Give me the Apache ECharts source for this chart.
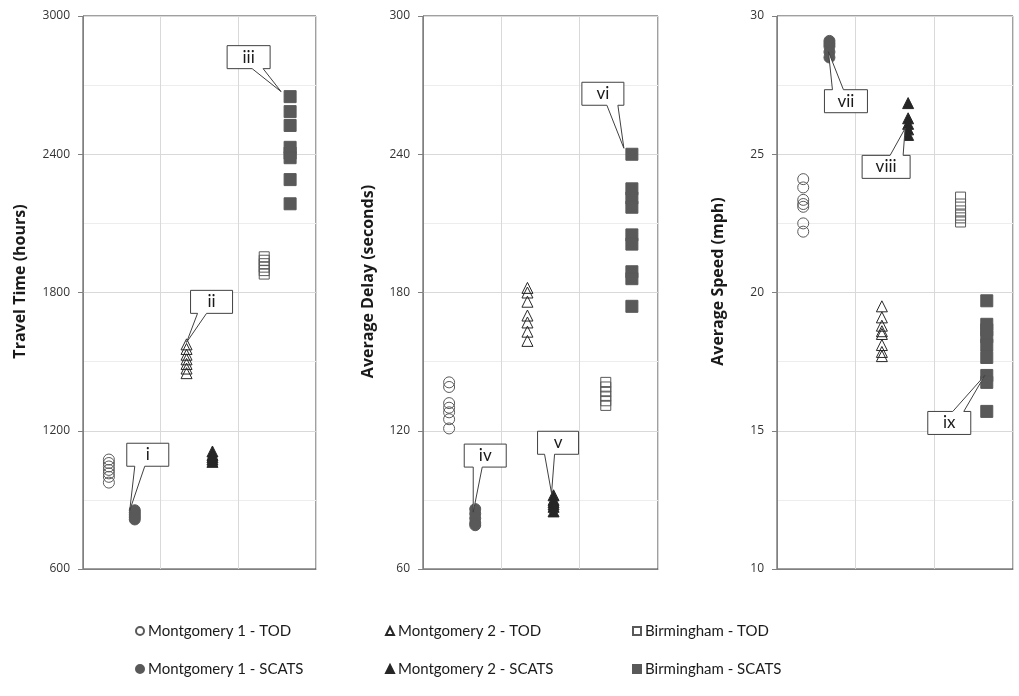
<!DOCTYPE html>
<html>
<head>
<meta charset="utf-8">
<title>TOD vs SCATS</title>
<script src="https://cdn.jsdelivr.net/npm/echarts@6/dist/echarts.min.js"></script>
<style>
  html, body { margin: 0; padding: 0; background: #fff; }
  #chart { width: 1019px; height: 696px; }
</style>
</head>
<body>
<div id="chart"></div>
<script>
// series names, in legend order (column by column)
const seriesNames = [
  'Montgomery 1 - TOD', 'Montgomery 1 - SCATS',
  'Montgomery 2 - TOD', 'Montgomery 2 - SCATS',
  'Birmingham - TOD', 'Birmingham - SCATS'
]
// x slot of each series on the hidden x axis (0..9)
const seriesX = [1, 2, 4, 5, 7, 8]

// Travel Time (hours)
const travelM1Tod = [1075, 1060, 1045, 1030, 1015, 1000, 975]
const travelM1Scats = [855, 845, 835, 825, 815]
const travelM2Tod = [1575, 1555, 1530, 1510, 1490, 1470, 1450]
const travelM2Scats = [1110, 1095, 1085, 1075, 1065]
const travelBhamTod = [1955, 1940, 1925, 1910, 1895, 1880]
const travelBhamScats = [2650, 2585, 2525, 2430, 2405, 2385, 2290, 2185]

// Average Delay (seconds)
const delayM1Tod = [141, 139, 132, 130, 128, 125, 121]
const delayM1Scats = [86, 84, 82, 80, 79]
const delayM2Tod = [182, 180, 176, 170, 167, 163, 159]
const delayM2Scats = [92, 90, 89, 88, 87, 85]
const delayBhamTod = [141, 139, 137, 135, 133, 131]
const delayBhamScats = [240, 225, 221, 217, 205, 201, 189, 186, 174]

// Average Speed (mph)
const speedM1Tod = [24.1, 23.8, 23.35, 23.2, 23.1, 22.5, 22.2]
const speedM1Scats = [29.1, 29.0, 28.9, 28.7, 28.5]
const speedM2Tod = [19.5, 19.1, 18.8, 18.6, 18.5, 18.1, 17.85, 17.7]
const speedM2Scats = [26.85, 26.3, 26.1, 25.9, 25.7]
const speedBhamTod = [23.45, 23.2, 22.95, 22.8, 22.7, 22.55]
const speedBhamScats = [19.7, 18.85, 18.65, 18.4, 18.1, 17.65, 17.0, 16.75, 15.7]

// y axis ranges / titles
const panelTitles = ['Travel Time (hours)', 'Average Delay (seconds)', 'Average Speed (mph)']
const panelMin = [600, 60, 10]
const panelMax = [3000, 300, 30]
const panelStep = [600, 60, 5]

// callout labels and the data point each one points at
const calloutLabels = ['i', 'ii', 'iii', 'iv', 'v', 'vi', 'vii', 'viii', 'ix']
const calloutPanel = [0, 0, 0, 1, 1, 1, 2, 2, 2]
const calloutAnchor = [[2, 855], [4, 1575], [8, 2650], [2, 86], [5, 92], [8, 240], [2, 28.6], [5, 25.9], [8, 17.0]]

const panelValues = [
  [travelM1Tod, travelM1Scats, travelM2Tod, travelM2Scats, travelBhamTod, travelBhamScats],
  [delayM1Tod, delayM1Scats, delayM2Tod, delayM2Scats, delayBhamTod, delayBhamScats],
  [speedM1Tod, speedM1Scats, speedM2Tod, speedM2Scats, speedBhamTod, speedBhamScats]
]

// layout of the three plot areas
const gridBox = [
  { left: 83, width: 233, nameGap: 55 },
  { left: 423, width: 235, nameGap: 47 },
  { left: 777, width: 236, nameGap: 51 }
]

// marker look for each series
const markerStyle = [
  { symbol: 'circle', size: 11, fill: 'rgba(255,255,255,0)', stroke: '#595959' },
  { symbol: 'circle', size: 11, fill: '#595959', stroke: '#595959' },
  { symbol: 'triangle', size: 11, fill: 'rgba(255,255,255,0)', stroke: '#262626' },
  { symbol: 'triangle', size: 11, fill: '#262626', stroke: '#262626' },
  { symbol: 'rect', size: 10, fill: 'rgba(255,255,255,0)', stroke: '#595959' },
  { symbol: 'rect', size: 12, fill: '#595959', stroke: '#595959' }
]

// callout box placement, px: tip offset from point, box offset from tip, pointer base x from tip, box width
const calloutLayout = [
  { tip: [-5, 0], box: [-3, -67], base: [5, 15], w: 42 },
  { tip: [0, -2], box: [4, -52], base: [11, 20], w: 42 },
  { tip: [-9, -5], box: [-54, -46], base: [-29, -18], w: 43 },
  { tip: [-2, 3], box: [-9, -68], base: [0, 9], w: 42 },
  { tip: [-2, -2], box: [-14, -62], base: [-7, 3], w: 41 },
  { tip: [-8, -6], box: [-42, -66], base: [-17, -6], w: 42 },
  { tip: [-1, -3], box: [-4, 38], base: [4, 15], w: 43 },
  { tip: [-3, -1], box: [-43, 27], base: [-15, -2], w: 48 },
  { tip: [-2, 0], box: [-57, 36], base: [-32, -21], w: 43 }
]

const FONT = '"Open Sans", "Noto Sans", sans-serif'
const TEXT_FONT = 'Lato, "Open Sans", sans-serif'

const chart = echarts.init(document.getElementById('chart'))

const grids = gridBox.map(g => ({
  left: g.left, width: g.width, top: 16, bottom: 127,
  show: true, borderColor: '#404040', borderWidth: 1
}))

const xAxes = gridBox.map((g, i) => ({
  type: 'value', gridIndex: i, min: 0, max: 9, interval: 3,
  axisLabel: { show: false },
  axisTick: { show: false },
  axisLine: { show: true, lineStyle: { color: '#808080' } },
  splitLine: { show: true, lineStyle: { color: '#d9d9d9' } }
}))

const yAxes = gridBox.map((g, i) => ({
  type: 'value', gridIndex: i,
  min: panelMin[i], max: panelMax[i], interval: panelStep[i],
  name: panelTitles[i], nameLocation: 'middle', nameGap: g.nameGap,
  // left padding pushes the rotated title a little up the axis
  nameTextStyle: { fontFamily: FONT, fontWeight: 'bold', fontSize: 16, color: '#1a1a1a', padding: [0, 0, 0, 22] },
  axisLabel: {
    fontFamily: FONT, fontSize: 12, color: '#333', margin: 13,
    formatter: v => String(v)
  },
  axisLine: { show: true, lineStyle: { color: '#808080' } },
  axisTick: { show: true, length: 5, lineStyle: { color: '#808080' } },
  minorTick: { show: false, splitNumber: 2 },
  splitLine: { show: true, lineStyle: { color: '#d9d9d9' } },
  minorSplitLine: { show: true, lineStyle: { color: '#ededed' } }
}))

const series = []
panelValues.forEach((group, p) => {
  group.forEach((vals, s) => {
    const m = markerStyle[s]
    series.push({
      name: seriesNames[s],
      type: 'scatter',
      xAxisIndex: p, yAxisIndex: p,
      symbol: m.symbol, symbolSize: m.size,
      itemStyle: { color: m.fill, borderColor: m.stroke, borderWidth: 1, opacity: 1 },
      emphasis: { disabled: true },
      data: vals.map(v => [seriesX[s], v])
    })
  })
})

// legend: three columns of two rows
const legendLeft = [130, 380, 627]
const legends = legendLeft.map((x, c) => ({
  orient: 'vertical', left: x, top: 616,
  itemWidth: 8, itemHeight: 8, itemGap: 18,
  selectedMode: false,
  textStyle: { fontFamily: TEXT_FONT, fontSize: 15, lineHeight: 20, color: '#1a1a1a', padding: [0, 0, 0, -1] },
  data: [seriesNames[c * 2], seriesNames[c * 2 + 1]]
}))

chart.setOption({
  animation: false,
  grid: grids,
  xAxis: xAxes,
  yAxis: yAxes,
  legend: legends,
  series: series
})

// callouts, placed through the axes of each panel
const graphics = []
calloutLabels.forEach((label, k) => {
  const c = calloutLayout[k]
  const p = chart.convertToPixel({ gridIndex: calloutPanel[k] }, calloutAnchor[k])
  const tx = p[0] + c.tip[0]
  const ty = p[1] + c.tip[1]
  const bx = tx + c.box[0]
  const by = ty + c.box[1]
  const w = c.w
  const h = 23
  let pts
  if (c.box[1] < 0) {
    // box above the point, pointer off the bottom edge
    pts = [[bx, by], [bx + w, by], [bx + w, by + h], [tx + c.base[1], by + h], [tx, ty], [tx + c.base[0], by + h], [bx, by + h]]
  } else {
    // box below the point, pointer off the top edge
    pts = [[bx, by], [tx + c.base[0], by], [tx, ty], [tx + c.base[1], by], [bx + w, by], [bx + w, by + h], [bx, by + h]]
  }
  graphics.push({
    type: 'polygon', z: 100,
    shape: { points: pts },
    style: { fill: '#fff', stroke: '#404040', lineWidth: 1 }
  })
  graphics.push({
    type: 'text', z: 101,
    x: bx + w / 2, y: by + h / 2,
    style: {
      text: label, fill: '#1a1a1a', font: '17px ' + TEXT_FONT,
      textAlign: 'center', textVerticalAlign: 'middle'
    }
  })
})

chart.setOption({ graphic: graphics })
</script>
</body>
</html>
